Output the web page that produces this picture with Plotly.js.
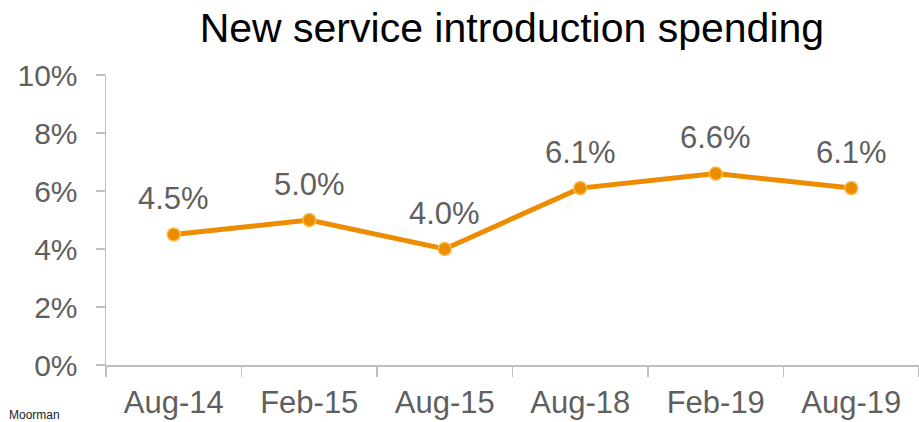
<!DOCTYPE html>
<html>
<head>
<meta charset="utf-8">
<script src="https://cdn.plot.ly/plotly-3.0.1.min.js"></script>
<style>html,body{margin:0;padding:0;background:#fff;}#chart{width:919px;height:422px;}</style>
</head>
<body>
<div id="chart"></div>
<script>
const categories = ["Aug-14", "Feb-15", "Aug-15", "Aug-18", "Feb-19", "Aug-19"];
const values = [4.5, 5.0, 4.0, 6.1, 6.6, 6.1];
const yTickVals = [0, 2, 4, 6, 8, 10];
const yTickText = ["0%", "2%", "4%", "6%", "8%", "10%"];
const labelText = values.map(v => v.toFixed(1) + "%");

const FONT = "Liberation Sans, Arial, sans-serif";
const GRAY = "#5f5f5f";

const trace = {
  x: categories,
  y: values,
  type: "scatter",
  mode: "lines+markers",
  line: {color: "#EE8C00", width: 5},
  marker: {color: "#EE8C00", size: 13, line: {color: "#F7BE4A", width: 1.5}},
  hoverinfo: "skip",
  cliponaxis: false
};

const annotations = categories.map((c, i) => ({
  x: c, y: values[i], xref: "x", yref: "y",
  text: labelText[i], showarrow: false, yshift: 36,
  font: {family: FONT, size: 31, color: GRAY}
}));
annotations.push({
  xref: "paper", yref: "paper", x: -0.122, y: -0.143, xanchor: "left", yanchor: "top",
  text: "Moorman", showarrow: false,
  font: {family: FONT, size: 12, color: "#222"}
});

const layout = {
  width: 919, height: 422,
  margin: {l: 106, r: 0, t: 75, b: 57},
  paper_bgcolor: "#fff", plot_bgcolor: "#fff",
  showlegend: false,
  title: {text: "New service introduction spending", x: 0.557, xanchor: "center", y: 0.935, yanchor: "middle",
          font: {family: FONT, size: 41, color: "#000"}},
  xaxis: {
    type: "category", tickson: "boundaries", ticks: "outside", ticklen: 10, tickcolor: "#BFBFBF", tickwidth: 1.5,
    showline: true, linecolor: "#BFBFBF", linewidth: 1.5, showgrid: false, zeroline: false,
    tickfont: {family: FONT, size: 31, color: GRAY}, ticklabelstandoff: 9,
    range: [-0.5, 5.5]
  },
  yaxis: {
    range: [0, 10], tickvals: yTickVals, ticktext: yTickText, ticks: "outside", ticklen: 9,
    tickcolor: "#BFBFBF", tickwidth: 1.5, showline: true, linecolor: "#BFBFBF", linewidth: 1.5,
    showgrid: false, zeroline: false, tickfont: {family: FONT, size: 30, color: GRAY}, ticklabelstandoff: 12
  },
  annotations: annotations
};

Plotly.newPlot("chart", [trace], layout, {displayModeBar: false, staticPlot: true});
</script>
</body>
</html>
